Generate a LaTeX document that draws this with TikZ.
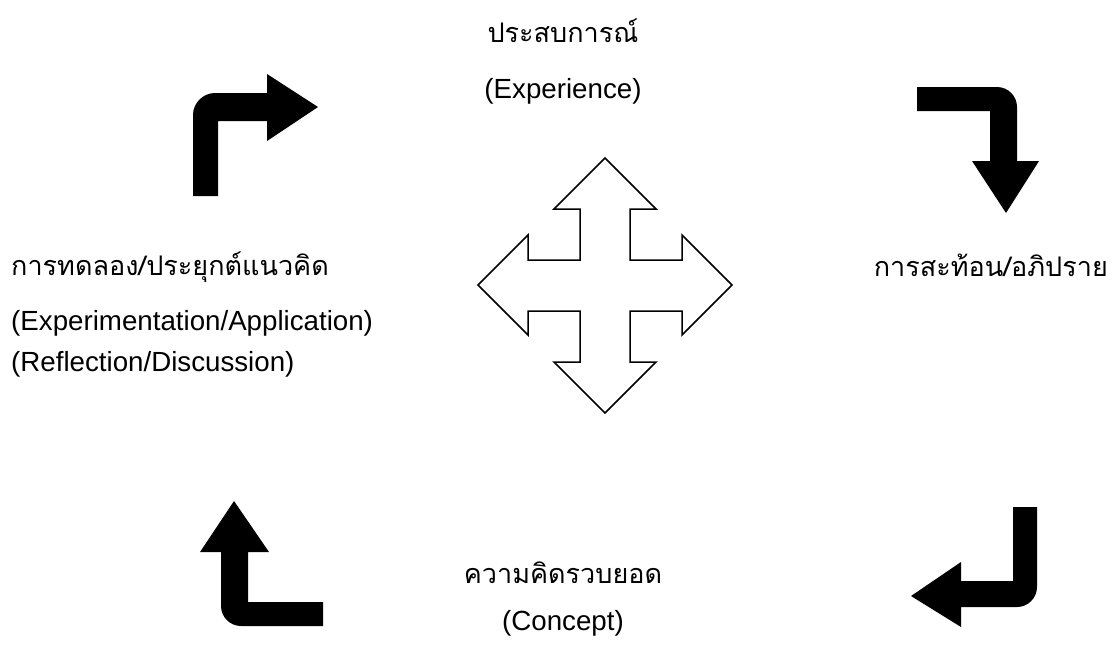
\documentclass[tikz,border=0pt]{standalone}
\usepackage{fontspec}
\setmainfont{Liberation Sans}
\newfontfamily\thaifont[Script=Thai]{Loma}
\begin{document}
\begin{tikzpicture}[x=1pt,y=-1pt,
  en/.style={inner sep=0pt,font=\fontsize{27.7}{32}\selectfont},
  th/.style={inner sep=0pt,font=\thaifont\fontsize{27}{32}\selectfont},
  bent/.style={fill=black},
  cross/.style={draw=black,line width=1.5pt,line join=miter,fill=white}]
\useasboundingbox (0,0) rectangle (1115,653);
% texts
\node[th,anchor=base] (exth) at (563,42) {ประสบการณ์};
\node[en,anchor=base] (exen) at (563,98) {(Experience)};
\node[th,anchor=base west] (apth) at (11,275) {การทดลอง/ประยุกต์แนวคิด};
\node[en,anchor=base west] (apen) at (11,330) {(Experimentation/Application)};
\node[en,anchor=base west] (reen) at (11,371) {(Reflection/Discussion)};
\node[th,anchor=base east] (reth) at (1108,276) {การสะท้อน/อภิปราย};
\node[th,anchor=base] (coth) at (563,583) {ความคิดรวบยอด};
\node[en,anchor=base] (coen) at (563,630) {(Concept)};
% central four-way arrow
\draw[cross] (605,158) -- (656,209) -- (630,209) -- (630,260) -- (682,260) -- (682,235)
  -- (732,285) -- (682,335) -- (682,311) -- (630,311) -- (630,362) -- (656,362)
  -- (605,413) -- (554,362) -- (580,362) -- (580,311) -- (528,311) -- (528,335)
  -- (478,285) -- (528,235) -- (528,260) -- (580,260) -- (580,209) -- (554,209) -- cycle;
% bent arrows
\fill[bent] (193,196) -- (193,115) .. controls (193,103) and (203,93) .. (215,93)
  -- (267,93) -- (267,74) -- (318,107) -- (267,141) -- (267,121) -- (218,121) -- (218,196) -- cycle;
\fill[bent] (917,87) -- (997,87) .. controls (1008,87) and (1017,96) .. (1017,107)
  -- (1017,161) -- (1039,161) -- (1006,213) -- (972,161) -- (990,161) -- (990,111) -- (917,111) -- cycle;
\fill[bent] (234,501) -- (269,552) -- (248,552) -- (248,602) -- (323,602) -- (323,626)
  -- (241,626) .. controls (230,626) and (221,617) .. (221,606) -- (221,552) -- (200,552) -- cycle;
\fill[bent] (1013,507) -- (1037,507) -- (1037,587) .. controls (1037,598) and (1028,607) .. (1017,607)
  -- (961,607) -- (961,627) -- (911,596) -- (961,562) -- (961,581) -- (1013,581) -- cycle;
\end{tikzpicture}
\end{document}
